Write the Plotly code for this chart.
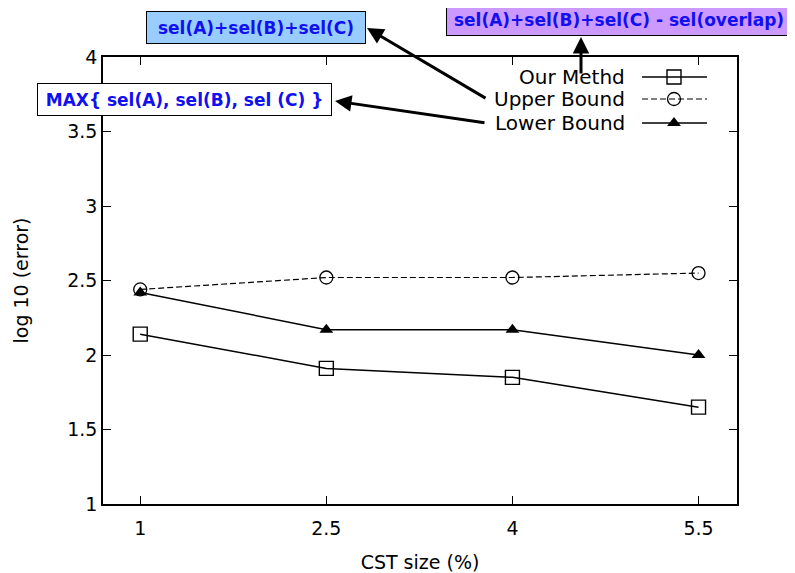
import plotly.graph_objects as go

# ---- data ----
cst_size = [1, 2.5, 4, 5.5]
our_method = [2.14, 1.91, 1.85, 1.65]
upper_bound = [2.44, 2.52, 2.52, 2.55]
lower_bound = [2.42, 2.17, 2.17, 2.00]
series_names = ["Our Methd", "Upper Bound", "Lower Bound"]
x_ticks = [1, 2.5, 4, 5.5]
x_tick_labels = ["1", "2.5", "4", "5.5"]
y_ticks = [1, 1.5, 2, 2.5, 3, 3.5, 4]
y_tick_labels = ["1", "1.5", "2", "2.5", "3", "3.5", "4"]
box_texts = ["sel(A)+sel(B)+sel(C)", "sel(A)+sel(B)+sel(C) - sel(overlap)",
             "MAX{ sel(A), sel(B), sel (C) }"]

# page body has an 8px margin, so the figure is drawn 8px smaller and shifted
OFF = 8
W, H = 795 - OFF, 573 - OFF
# plot area in screen pixels
SL, SR, ST, SB = 103, 737, 57, 504
L, R, T, B = SL - OFF, W - (SR - OFF), ST - OFF, H - (SB - OFF)
PW, PH = W - L - R, H - T - B


def px(x):
    return (x - SL) / PW


def py(y):
    return (SB - y) / PH


styles = [
    dict(line=dict(color="black", width=1.5),
         marker=dict(symbol="square-open", size=14, color="black", line=dict(width=1.4))),
    dict(line=dict(color="black", width=1.2, dash="6px,3px"),
         marker=dict(symbol="circle-open", size=13, color="black", line=dict(width=1.3))),
    dict(line=dict(color="black", width=1.5),
         marker=dict(symbol="triangle-up", size=12, color="black")),
]

fig = go.Figure()
for name, vals, st in zip(series_names, [our_method, upper_bound, lower_bound], styles):
    fig.add_trace(go.Scatter(x=cst_size, y=vals, mode="lines+markers", name=name,
                             showlegend=False, **st))

# manual legend (text left of sample), on an overlay axis in screen-pixel units
leg_rows = [77, 99, 123]
for name, row, st in zip(series_names, leg_rows, styles):
    fig.add_trace(go.Scatter(x=[642, 707], y=[row, row], mode="lines", line=st["line"],
                             xaxis="x2", yaxis="y2", showlegend=False, hoverinfo="skip"))
    fig.add_trace(go.Scatter(x=[674], y=[row], mode="markers", marker=st["marker"],
                             xaxis="x2", yaxis="y2", showlegend=False, hoverinfo="skip"))
    fig.add_annotation(x=627, y=row, xref="x2", yref="y2", text=name, showarrow=False,
                       xanchor="right", yanchor="middle",
                       font=dict(family="DejaVu Sans", size=20, color="black"))

tick_font = dict(family="DejaVu Sans", size=19, color="black")
title_font = dict(family="DejaVu Sans", size=19, color="black")
fig.update_layout(
    width=W, height=H,
    margin=dict(l=L, r=R, t=T, b=B, autoexpand=False),
    paper_bgcolor="white", plot_bgcolor="white",
    xaxis=dict(range=[0.7, 5.81], tickvals=x_ticks, ticktext=x_tick_labels,
               ticks="inside", ticklen=8, tickcolor="black", showgrid=False, zeroline=False,
               showline=True, linecolor="black", linewidth=1.5, mirror="ticks",
               ticklabelstandoff=6,
               tickfont=tick_font, title=dict(text="CST size (%)", font=title_font, standoff=29)),
    yaxis=dict(range=[1, 4], tickvals=y_ticks, ticktext=y_tick_labels,
               ticks="inside", ticklen=8, tickcolor="black", showgrid=False, zeroline=False,
               showline=True, linecolor="black", linewidth=1.5, mirror="ticks",
               tickfont=tick_font, title=dict(text="log 10 (error)", font=title_font, standoff=34)),
    xaxis2=dict(range=[SL, SR], overlaying="x", visible=False, fixedrange=True),
    yaxis2=dict(range=[SB, ST], overlaying="y", visible=False, fixedrange=True),
)

box_font = dict(family="DejaVu Sans", size=17, color="#1010f0", weight="bold")
boxes = [
    (box_texts[0], 256, 27.5, 218, 31, "#99ccff"),
    (box_texts[1], 619, 19.5, 344, 31, "#cc99ff"),
    (box_texts[2], 184.5, 99.5, 293, 31, "white"),
]
for text, cx, cy, w, h, bg in boxes:
    fig.add_annotation(x=px(cx), y=py(cy), xref="paper", yref="paper", text="<b>%s</b>" % text,
                       showarrow=False, xanchor="center", yanchor="middle", width=w, height=h,
                       bgcolor=bg, bordercolor="black", borderwidth=1, borderpad=0,
                       font=box_font)

# arrows: head (x, y) and tail (x, y) in screen pixels
arrows = [((367, 28), (487, 99)), ((335, 101), (486, 123)), ((581, 37), (581, 75))]
for (hx, hy), (tx, ty) in arrows:
    fig.add_annotation(x=px(hx), y=py(hy), xref="paper", yref="paper", text="",
                       showarrow=True, arrowhead=2, arrowsize=1.1, arrowwidth=3,
                       arrowcolor="black", ax=tx - hx, ay=ty - hy)

fig.write_html("out.html")
